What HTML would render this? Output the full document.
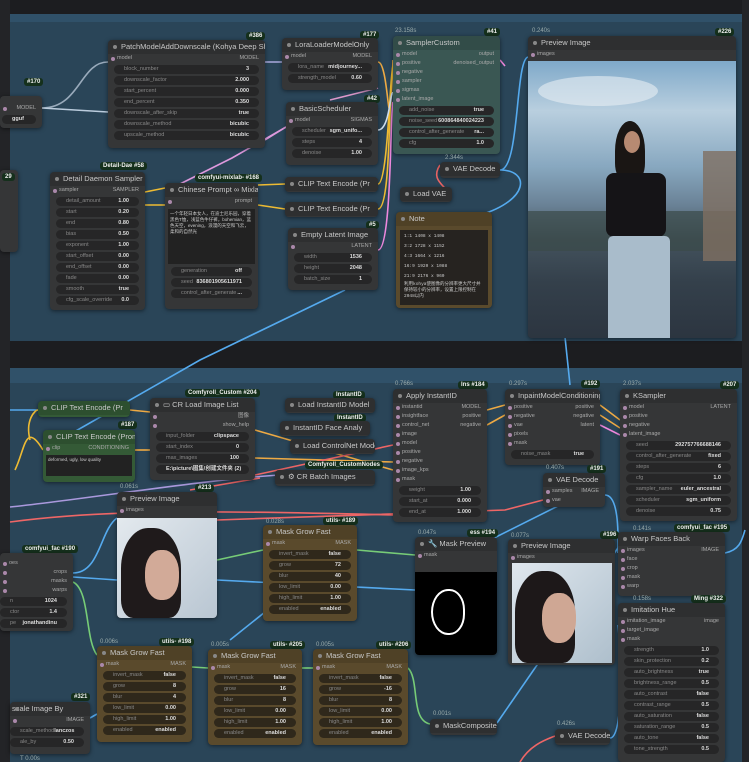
<!DOCTYPE html>
<html><head><meta charset="utf-8"><style>
*{margin:0;padding:0;box-sizing:border-box}
body{width:749px;height:762px;overflow:hidden;background:#1c1d20;position:relative;font-family:"Liberation Sans","Noto Sans CJK SC",sans-serif;color:#bbb}
.g{position:absolute;background:#2a4558}
.n{position:absolute;background:#353637;border-radius:4px;box-shadow:0 1px 4px rgba(0,0,0,.5);overflow:hidden}
.t{height:14px;line-height:14px;font-size:7.5px;color:#c8c8c8;padding-left:13px;position:relative;white-space:nowrap;background:rgba(0,0,0,.12)}
.t:before{content:"";position:absolute;left:5px;top:5px;width:4px;height:4px;border-radius:50%;background:#888}
.io{height:9px;line-height:9px;font-size:5.5px;color:#aaa;padding:0 6px 0 9px;display:flex;justify-content:space-between;position:relative}
.io:before{content:"";position:absolute;left:3px;top:3px;width:4px;height:4px;border-radius:50%;background:#a8a;}
.w{height:9px;line-height:9px;font-size:5.5px;color:#888;margin:2px 6px 0;background:#262627;border-radius:5px;padding:0 10px;display:flex;justify-content:space-between;white-space:nowrap;overflow:hidden}
.w b{color:#ddd;font-weight:bold}
.b{position:absolute;background:#15301c;color:#eee;font-size:6px;font-weight:bold;padding:1px 3px;border-radius:3px;white-space:nowrap}
.tm{position:absolute;font-size:6px;color:#9aa}
.br{background:#5a4a2c}.br .w{background:#2f281b}
.gr{background:#345a36}
.te{background:#3a5753}
svg{position:absolute;left:0;top:0}
</style></head><body>
<div class="g" style="left:10px;top:14px;width:732px;height:327px"></div>
<div class="g" style="left:10px;top:14px;width:732px;height:8px;background:#305169"></div>
<div class="g" style="left:10px;top:368px;width:732px;height:394px"></div>
<div class="g" style="left:10px;top:368px;width:732px;height:15px;background:#305169"></div>
<div style="position:absolute;left:0;top:0;width:10px;height:762px;background:#232427"></div>
<div style="position:absolute;left:742px;top:0;width:7px;height:762px;background:#232427"></div>

<svg width="749" height="762">
<g fill="none" stroke-width="1.6">
<path d="M42 108 C80 108 80 62 108 62" stroke="#9ab"/>
<path d="M42 108 L108 112" stroke="#bcd"/>
<path d="M265 62 L282 62" stroke="#aad"/>
<path d="M265 140 L286 127" stroke="#d9d"/>
<path d="M330 100 L378 88" stroke="#d9c"/>
<path d="M178 185 L232 158 L286 127" stroke="#d9d"/>
<path d="M145 192 L165 188" stroke="#eb3"/>
<path d="M145 205 L165 205" stroke="#eb3"/>
<path d="M258 185 L285 184" stroke="#eb3"/>
<path d="M258 205 L285 209" stroke="#eb3"/>
<path d="M378 62 C390 62 388 170 393 60" stroke="#ea4"/>
<path d="M378 184 C388 184 390 70 393 66" stroke="#eb3"/>
<path d="M378 209 C392 209 388 80 393 75" stroke="#eb3"/>
<path d="M378 250 C392 250 390 110 393 102" stroke="#e8d"/>
<path d="M378 130 C390 130 390 90 393 93" stroke="#cde"/>
<path d="M500 60 L505 66" stroke="#e8d"/>
<path d="M440 165 C430 180 445 185 450 195" stroke="#e66"/>
<path d="M500 170 C520 170 515 60 528 57" stroke="#5ae"/>
<path d="M500 170 C530 170 530 200 480 215 L430 240" stroke="#5ae"/>
<path d="M345 290 L200 360 L60 440" stroke="#5ae"/>
<path d="M10 410 L38 410" stroke="#5ae"/>
<path d="M30 440 C25 420 35 410 38 410" stroke="#eb3"/>
<path d="M15 470 C25 450 25 420 43 450" stroke="#eb3"/>
<path d="M130 410 L150 412" stroke="#ea4"/>
<path d="M135 450 L150 450" stroke="#ea4"/>
<path d="M255 430 L393 470" stroke="#ea4"/>
<path d="M255 458 L393 462" stroke="#ea4"/>
<path d="M255 475 L393 445" stroke="#e66"/>
<path d="M10 522 C100 510 200 510 393 515" stroke="#e66"/>
<path d="M10 507 C80 500 200 480 280 475" stroke="#a9d"/>
<path d="M190 490 L260 478" stroke="#e66"/>
<path d="M217 520 L505 510 L543 500" stroke="#e66"/>
<path d="M73 573 C100 573 100 530 117 518" stroke="#5ae"/>
<path d="M73 577 L117 580" stroke="#5ae"/>
<path d="M73 582 C90 590 85 640 97 655" stroke="#7c7"/>
<path d="M217 560 L263 550" stroke="#7c7"/>
<path d="M217 580 L415 590" stroke="#5ae"/>
<path d="M230 640 L330 560" stroke="#5ae"/>
<path d="M357 550 L415 555" stroke="#7c7"/>
<path d="M192 667 L208 668" stroke="#7c7"/>
<path d="M302 668 L313 668" stroke="#7c7"/>
<path d="M408 668 C420 680 410 720 430 724" stroke="#7c7"/>
<path d="M497 723 L620 545" stroke="#5ae"/>
<path d="M490 540 L570 500" stroke="#5ae"/>
<path d="M487 410 L505 405" stroke="#ea4"/>
<path d="M487 425 L505 415" stroke="#ea4"/>
<path d="M600 405 L620 420" stroke="#ea4"/>
<path d="M600 415 L620 428" stroke="#ea4"/>
<path d="M600 425 L620 435" stroke="#e8d"/>
<path d="M605 495 C620 495 618 540 618 553" stroke="#5ae"/>
<path d="M610 738 C625 738 620 640 618 625" stroke="#5ae"/>
<path d="M725 553 C740 550 742 540 745 530" stroke="#5ae"/>
<path d="M565 337 L570 385" stroke="#5ae"/>
<path d="M90 718 L97 714" stroke="#5ae"/>
<path d="M520 762 C530 745 545 740 555 736" stroke="#e66"/>
</g>
</svg>

<!-- TOP -->
<div class="n" style="left:0;top:96px;width:42px;height:32px"><div class="io" style="margin-top:8px;justify-content:flex-end"><span>MODEL</span></div><div class="w" style="margin-left:2px"><b>gguf</b></div></div>
<div class="b" style="left:24px;top:78px">#170</div>
<div class="n" style="left:0;top:170px;width:18px;height:82px"></div>
<div class="b" style="left:2px;top:173px">29</div>

<div class="b" style="left:246px;top:32px">#386</div>
<div class="n" style="left:108px;top:40px;width:157px;height:108px">
<div class="t">PatchModelAddDownscale (Kohya Deep Shrink)</div>
<div class="io"><span>model</span><span>MODEL</span></div>
<div class="w"><span>block_number</span><b>3</b></div>
<div class="w"><span>downscale_factor</span><b>2.000</b></div>
<div class="w"><span>start_percent</span><b>0.000</b></div>
<div class="w"><span>end_percent</span><b>0.350</b></div>
<div class="w"><span>downscale_after_skip</span><b>true</b></div>
<div class="w"><span>downscale_method</span><b>bicubic</b></div>
<div class="w"><span>upscale_method</span><b>bicubic</b></div>
</div>
<div class="b" style="left:360px;top:31px">#177</div>
<div class="n" style="left:282px;top:38px;width:96px;height:52px">
<div class="t">LoraLoaderModelOnly</div>
<div class="io"><span>model</span><span>MODEL</span></div>
<div class="w"><span>lora_name</span><b>midjourney...</b></div>
<div class="w"><span>strength_model</span><b>0.60</b></div>
</div>
<div class="b" style="left:364px;top:95px">#42</div>
<div class="n" style="left:286px;top:102px;width:92px;height:63px">
<div class="t">BasicScheduler</div>
<div class="io"><span>model</span><span>SIGMAS</span></div>
<div class="w"><span>scheduler</span><b>sgm_unifo...</b></div>
<div class="w"><span>steps</span><b>4</b></div>
<div class="w"><span>denoise</span><b>1.00</b></div>
</div>
<div class="tm" style="left:395px;top:28px">23.158s</div>
<div class="b" style="left:484px;top:28px">#41</div>
<div class="n te" style="left:393px;top:36px;width:107px;height:118px">
<div class="t">SamplerCustom</div>
<div class="io"><span>model</span><span>output</span></div>
<div class="io"><span>positive</span><span>denoised_output</span></div>
<div class="io"><span>negative</span></div>
<div class="io"><span>sampler</span></div>
<div class="io"><span>sigmas</span></div>
<div class="io"><span>latent_image</span></div>
<div class="w"><span>add_noise</span><b>true</b></div>
<div class="w"><span>noise_seed</span><b>600864840024223</b></div>
<div class="w"><span>control_after_generate</span><b>ra...</b></div>
<div class="w"><span>cfg</span><b>1.0</b></div>
</div>
<div class="tm" style="left:445px;top:155px">2.344s</div>
<div class="n" style="left:440px;top:162px;width:60px;height:16px"><div class="t">VAE Decode</div></div>
<div class="n" style="left:400px;top:187px;width:52px;height:15px"><div class="t">Load VAE</div></div>
<div class="n br" style="left:396px;top:212px;width:96px;height:96px">
<div class="t">Note</div>
<div style="margin:4px 4px;background:#262320;height:75px;font-size:4.5px;line-height:10px;padding:2px 4px;color:#ccc;font-family:'Liberation Mono','Noto Sans CJK SC',monospace">1:1 1408 x 1408<br>3:2 1728 x 1152<br>4:3 1664 x 1216<br>16:9 1920 x 1088<br>21:9 2176 x 960<br><span style="line-height:6px;display:block">利用kohya使图像的分辨率更大尺寸并保持较小的分辨率，设置上限控制在2048以内</span></div>
</div>
<div class="tm" style="left:532px;top:28px">0.240s</div>
<div class="b" style="left:715px;top:28px">#226</div>
<div class="n" style="left:528px;top:36px;width:208px;height:302px">
<div class="t">Preview Image</div>
<div class="io"><span>images</span></div>
<div style="position:absolute;left:0;top:25px;width:208px;height:277px;background:linear-gradient(#7fa9c9 0%,#b9cfdf 18%,#88a8c0 38%,#6a8296 52%,#44535e 64%,#34404b 80%,#2c3540 100%);overflow:hidden">
<div style="position:absolute;left:10px;top:15px;width:120px;height:30px;border-radius:50%;background:#e8eef3;opacity:.6"></div>
<div style="position:absolute;left:0;top:150px;width:208px;height:40px;background:#3b4a48;opacity:.7"></div>
<div style="position:absolute;left:175px;top:90px;width:33px;height:110px;background:#7f6f62;opacity:.8"></div>
<div style="position:absolute;left:87px;top:60px;width:30px;height:60px;border-radius:50% 50% 30% 30%;background:#1a1614"></div>
<div style="position:absolute;left:96px;top:70px;width:16px;height:22px;border-radius:50%;background:#b78a72"></div>
<div style="position:absolute;left:78px;top:112px;width:60px;height:64px;background:#151417;border-radius:8px"></div>
<div style="position:absolute;left:80px;top:175px;width:62px;height:102px;background:#a9bccb;border-radius:5px 5px 0 0"></div>
</div>
</div>

<div class="b" style="left:100px;top:162px">Detail-Dae #58</div>
<div class="n" style="left:50px;top:172px;width:95px;height:138px">
<div class="t">Detail Daemon Sampler</div>
<div class="io"><span>sampler</span><span>SAMPLER</span></div>
<div class="w"><span>detail_amount</span><b>1.00</b></div>
<div class="w"><span>start</span><b>0.20</b></div>
<div class="w"><span>end</span><b>0.80</b></div>
<div class="w"><span>bias</span><b>0.50</b></div>
<div class="w"><span>exponent</span><b>1.00</b></div>
<div class="w"><span>start_offset</span><b>0.00</b></div>
<div class="w"><span>end_offset</span><b>0.00</b></div>
<div class="w"><span>fade</span><b>0.00</b></div>
<div class="w"><span>smooth</span><b>true</b></div>
<div class="w"><span>cfg_scale_override</span><b>0.0</b></div>
</div>
<div class="b" style="left:195px;top:174px">comfyui-mixlab- #168</div>
<div class="n" style="left:165px;top:183px;width:93px;height:126px">
<div class="t">Chinese Prompt ∞ Mixlab</div>
<div class="io" style="justify-content:flex-end"><span>prompt</span></div>
<div style="margin:3px 3px;background:#222;height:55px;font-size:4.5px;line-height:6px;padding:2px;color:#ccc">一个年轻日本女人，在迪士尼乐园，穿着黑色T恤，浅蓝色牛仔裤，bohemian，蓝色天空，evening，浪漫的天空和飞云，柔和的自然光</div>
<div class="w"><span>generation</span><b>off</b></div>
<div class="w"><span>seed</span><b>836801905611971</b></div>
<div class="w"><span>control_after_generate</span><b>...</b></div>
</div>
<div class="n" style="left:285px;top:177px;width:93px;height:15px"><div class="t">CLIP Text Encode (Pr</div></div>
<div class="n" style="left:285px;top:202px;width:93px;height:15px"><div class="t">CLIP Text Encode (Pr</div></div>
<div class="b" style="left:366px;top:221px">#5</div>
<div class="n" style="left:288px;top:228px;width:90px;height:62px">
<div class="t">Empty Latent Image</div>
<div class="io" style="justify-content:flex-end"><span>LATENT</span></div>
<div class="w"><span>width</span><b>1536</b></div>
<div class="w"><span>height</span><b>2048</b></div>
<div class="w"><span>batch_size</span><b>1</b></div>
</div>

<!-- BOTTOM -->
<div class="n gr" style="left:38px;top:401px;width:92px;height:16px"><div class="t">CLIP Text Encode (Pr</div></div>
<div class="b" style="left:118px;top:421px">#187</div>
<div class="n gr" style="left:43px;top:430px;width:92px;height:52px">
<div class="t">CLIP Text Encode (Prompt)</div>
<div class="io"><span>clip</span><span>CONDITIONING</span></div>
<div style="margin:2px 3px;background:#222;height:21px;font-size:4.5px;padding:2px;color:#ccc">deformed, ugly, low quality</div>
</div>
<div class="b" style="left:185px;top:389px">Comfyroll_Custom #204</div>
<div class="n" style="left:150px;top:398px;width:105px;height:82px">
<div class="t">▭ CR Load Image List</div>
<div class="io" style="justify-content:flex-end"><span>图像</span></div>
<div class="io" style="justify-content:flex-end"><span>show_help</span></div>
<div class="w"><span>input_folder</span><b>clipspace</b></div>
<div class="w"><span>start_index</span><b>0</b></div>
<div class="w"><span>max_images</span><b>100</b></div>
<div class="w"><b>E:\picture\图集\创建文件夹 (2)</b></div>
</div>
<div class="b" style="left:333px;top:391px">InstantID</div>
<div class="n" style="left:285px;top:398px;width:90px;height:15px"><div class="t">Load InstantID Model</div></div>
<div class="b" style="left:334px;top:414px">InstantID</div>
<div class="n" style="left:280px;top:421px;width:90px;height:15px"><div class="t">InstantID Face Analy</div></div>
<div class="n" style="left:290px;top:439px;width:85px;height:15px"><div class="t">Load ControlNet Mode</div></div>
<div class="b" style="left:305px;top:461px">Comfyroll_CustomNodes</div>
<div class="n" style="left:275px;top:470px;width:100px;height:16px"><div class="t">⚙ CR Batch Images</div></div>

<div class="tm" style="left:395px;top:381px">0.766s</div>
<div class="b" style="left:458px;top:381px">Ins #184</div>
<div class="n" style="left:393px;top:389px;width:94px;height:133px">
<div class="t">Apply InstantID</div>
<div class="io"><span>instantid</span><span>MODEL</span></div>
<div class="io"><span>insightface</span><span>positive</span></div>
<div class="io"><span>control_net</span><span>negative</span></div>
<div class="io"><span>image</span></div>
<div class="io"><span>model</span></div>
<div class="io"><span>positive</span></div>
<div class="io"><span>negative</span></div>
<div class="io"><span>image_kps</span></div>
<div class="io"><span>mask</span></div>
<div class="w"><span>weight</span><b>1.00</b></div>
<div class="w"><span>start_at</span><b>0.000</b></div>
<div class="w"><span>end_at</span><b>1.000</b></div>
</div>
<div class="tm" style="left:509px;top:381px">0.297s</div>
<div class="b" style="left:581px;top:380px">#192</div>
<div class="n" style="left:505px;top:389px;width:95px;height:76px">
<div class="t">InpaintModelConditioning</div>
<div class="io"><span>positive</span><span>positive</span></div>
<div class="io"><span>negative</span><span>negative</span></div>
<div class="io"><span>vae</span><span>latent</span></div>
<div class="io"><span>pixels</span></div>
<div class="io"><span>mask</span></div>
<div class="w"><span>noise_mask</span><b>true</b></div>
</div>
<div class="tm" style="left:546px;top:465px">0.407s</div>
<div class="b" style="left:587px;top:465px">#191</div>
<div class="n" style="left:543px;top:473px;width:62px;height:34px">
<div class="t">VAE Decode</div>
<div class="io"><span>samples</span><span>IMAGE</span></div>
<div class="io"><span>vae</span></div>
</div>
<div class="tm" style="left:623px;top:381px">2.037s</div>
<div class="b" style="left:720px;top:381px">#207</div>
<div class="n" style="left:620px;top:389px;width:117px;height:132px">
<div class="t">KSampler</div>
<div class="io"><span>model</span><span>LATENT</span></div>
<div class="io"><span>positive</span></div>
<div class="io"><span>negative</span></div>
<div class="io"><span>latent_image</span></div>
<div class="w"><span>seed</span><b>292757766688146</b></div>
<div class="w"><span>control_after_generate</span><b>fixed</b></div>
<div class="w"><span>steps</span><b>6</b></div>
<div class="w"><span>cfg</span><b>1.0</b></div>
<div class="w"><span>sampler_name</span><b>euler_ancestral</b></div>
<div class="w"><span>scheduler</span><b>sgm_uniform</b></div>
<div class="w"><span>denoise</span><b>0.75</b></div>
</div>

<div class="tm" style="left:120px;top:484px">0.061s</div>
<div class="b" style="left:195px;top:484px">#213</div>
<div class="n" style="left:117px;top:492px;width:100px;height:126px">
<div class="t">Preview Image</div>
<div class="io"><span>images</span></div>
<div style="position:absolute;left:0;top:26px;width:100px;height:100px;background:linear-gradient(135deg,#e3e9ee,#b9c6d2)">
<div style="position:absolute;left:4px;top:10px;width:60px;height:90px;background:#1f1a1b;border-radius:45% 45% 20% 20%"></div>
<div style="position:absolute;left:28px;top:32px;width:34px;height:50px;background:#d2aa98;border-radius:45%"></div>
</div>
</div>
<div class="b" style="left:22px;top:545px">comfyui_fac #190</div>
<div class="n" style="left:0;top:553px;width:73px;height:78px">
<div class="io" style="margin-top:6px"><span>oes</span></div>
<div class="io" style="justify-content:flex-end"><span>crops</span></div>
<div class="io" style="justify-content:flex-end"><span>masks</span></div>
<div class="io" style="justify-content:flex-end"><span>warps</span></div>
<div class="w" style="margin-left:0"><span>n</span><b>1024</b></div>
<div class="w" style="margin-left:0"><span>ctor</span><b>1.4</b></div>
<div class="w" style="margin-left:0"><span>pe</span><b>jonathandinu</b></div>
</div>
<div class="tm" style="left:266px;top:519px">0.028s</div>
<div class="b" style="left:323px;top:517px">utils- #189</div>
<div class="n br" style="left:263px;top:525px;width:94px;height:96px">
<div class="t">Mask Grow Fast</div>
<div class="io"><span>mask</span><span>MASK</span></div>
<div class="w"><span>invert_mask</span><b>false</b></div>
<div class="w"><span>grow</span><b>72</b></div>
<div class="w"><span>blur</span><b>40</b></div>
<div class="w"><span>low_limit</span><b>0.00</b></div>
<div class="w"><span>high_limit</span><b>1.00</b></div>
<div class="w"><span>enabled</span><b>enabled</b></div>
</div>
<div class="tm" style="left:418px;top:530px">0.047s</div>
<div class="b" style="left:467px;top:529px">ess #194</div>
<div class="n" style="left:415px;top:537px;width:82px;height:118px">
<div class="t">🔧 Mask Preview</div>
<div class="io"><span>mask</span></div>
<div style="position:absolute;left:0;top:35px;width:82px;height:83px;background:#000">
<div style="position:absolute;left:16px;top:17px;width:34px;height:46px;border:2.5px solid #fff;border-radius:50% 45% 45% 50%"></div>
</div>
</div>
<div class="tm" style="left:511px;top:533px">0.077s</div>
<div class="b" style="left:600px;top:531px">#196</div>
<div class="n" style="left:508px;top:539px;width:107px;height:126px">
<div class="t">Preview Image</div>
<div class="io"><span>images</span></div>
<div style="position:absolute;left:4px;top:24px;width:100px;height:100px;background:linear-gradient(135deg,#dfe7ee,#aebfcc)">
<div style="position:absolute;left:3px;top:8px;width:60px;height:92px;background:#1d1819;border-radius:45% 45% 20% 20%"></div>
<div style="position:absolute;left:30px;top:30px;width:34px;height:50px;background:#cfa794;border-radius:45%"></div>
</div>
</div>
<div class="tm" style="left:633px;top:526px">0.141s</div>
<div class="b" style="left:674px;top:524px">comfyui_fac #195</div>
<div class="n" style="left:618px;top:532px;width:107px;height:64px">
<div class="t">Warp Faces Back</div>
<div class="io"><span>images</span><span>IMAGE</span></div>
<div class="io"><span>face</span></div>
<div class="io"><span>crop</span></div>
<div class="io"><span>mask</span></div>
<div class="io"><span>warp</span></div>
</div>
<div class="tm" style="left:633px;top:596px">0.158s</div>
<div class="b" style="left:691px;top:595px">Ming #322</div>
<div class="n" style="left:618px;top:603px;width:107px;height:159px">
<div class="t">Imitation Hue</div>
<div class="io"><span>imitation_image</span><span>image</span></div>
<div class="io"><span>target_image</span></div>
<div class="io"><span>mask</span></div>
<div class="w"><span>strength</span><b>1.0</b></div>
<div class="w"><span>skin_protection</span><b>0.2</b></div>
<div class="w"><span>auto_brightness</span><b>true</b></div>
<div class="w"><span>brightness_range</span><b>0.5</b></div>
<div class="w"><span>auto_contrast</span><b>false</b></div>
<div class="w"><span>contrast_range</span><b>0.5</b></div>
<div class="w"><span>auto_saturation</span><b>false</b></div>
<div class="w"><span>saturation_range</span><b>0.5</b></div>
<div class="w"><span>auto_tone</span><b>false</b></div>
<div class="w"><span>tone_strength</span><b>0.5</b></div>
</div>

<div class="tm" style="left:100px;top:639px">0.006s</div>
<div class="b" style="left:159px;top:638px">utils- #198</div>
<div class="n br" style="left:97px;top:646px;width:95px;height:96px">
<div class="t">Mask Grow Fast</div>
<div class="io"><span>mask</span><span>MASK</span></div>
<div class="w"><span>invert_mask</span><b>false</b></div>
<div class="w"><span>grow</span><b>8</b></div>
<div class="w"><span>blur</span><b>4</b></div>
<div class="w"><span>low_limit</span><b>0.00</b></div>
<div class="w"><span>high_limit</span><b>1.00</b></div>
<div class="w"><span>enabled</span><b>enabled</b></div>
</div>
<div class="tm" style="left:211px;top:642px">0.005s</div>
<div class="b" style="left:270px;top:641px">utils- #205</div>
<div class="n br" style="left:208px;top:649px;width:94px;height:96px">
<div class="t">Mask Grow Fast</div>
<div class="io"><span>mask</span><span>MASK</span></div>
<div class="w"><span>invert_mask</span><b>false</b></div>
<div class="w"><span>grow</span><b>16</b></div>
<div class="w"><span>blur</span><b>8</b></div>
<div class="w"><span>low_limit</span><b>0.00</b></div>
<div class="w"><span>high_limit</span><b>1.00</b></div>
<div class="w"><span>enabled</span><b>enabled</b></div>
</div>
<div class="tm" style="left:316px;top:642px">0.005s</div>
<div class="b" style="left:376px;top:641px">utils- #206</div>
<div class="n br" style="left:313px;top:649px;width:95px;height:96px">
<div class="t">Mask Grow Fast</div>
<div class="io"><span>mask</span><span>MASK</span></div>
<div class="w"><span>invert_mask</span><b>false</b></div>
<div class="w"><span>grow</span><b>-16</b></div>
<div class="w"><span>blur</span><b>8</b></div>
<div class="w"><span>low_limit</span><b>0.00</b></div>
<div class="w"><span>high_limit</span><b>1.00</b></div>
<div class="w"><span>enabled</span><b>enabled</b></div>
</div>
<div class="tm" style="left:433px;top:711px">0.001s</div>
<div class="n" style="left:430px;top:719px;width:67px;height:16px"><div class="t">MaskComposite</div></div>
<div class="tm" style="left:557px;top:721px">0.426s</div>
<div class="n" style="left:555px;top:729px;width:55px;height:16px"><div class="t">VAE Decode</div></div>
<div class="b" style="left:71px;top:693px">#321</div>
<div class="n" style="left:10px;top:702px;width:80px;height:52px">
<div class="t" style="padding-left:2px">scale Image By</div>
<div class="io" style="justify-content:flex-end"><span>IMAGE</span></div>
<div class="w" style="margin-left:0"><span>scale_method</span><b>lanczos</b></div>
<div class="w" style="margin-left:0"><span>ale_by</span><b>0.50</b></div>
</div>
<div class="tm" style="left:20px;top:756px">T 0.00s</div>
</body></html>
